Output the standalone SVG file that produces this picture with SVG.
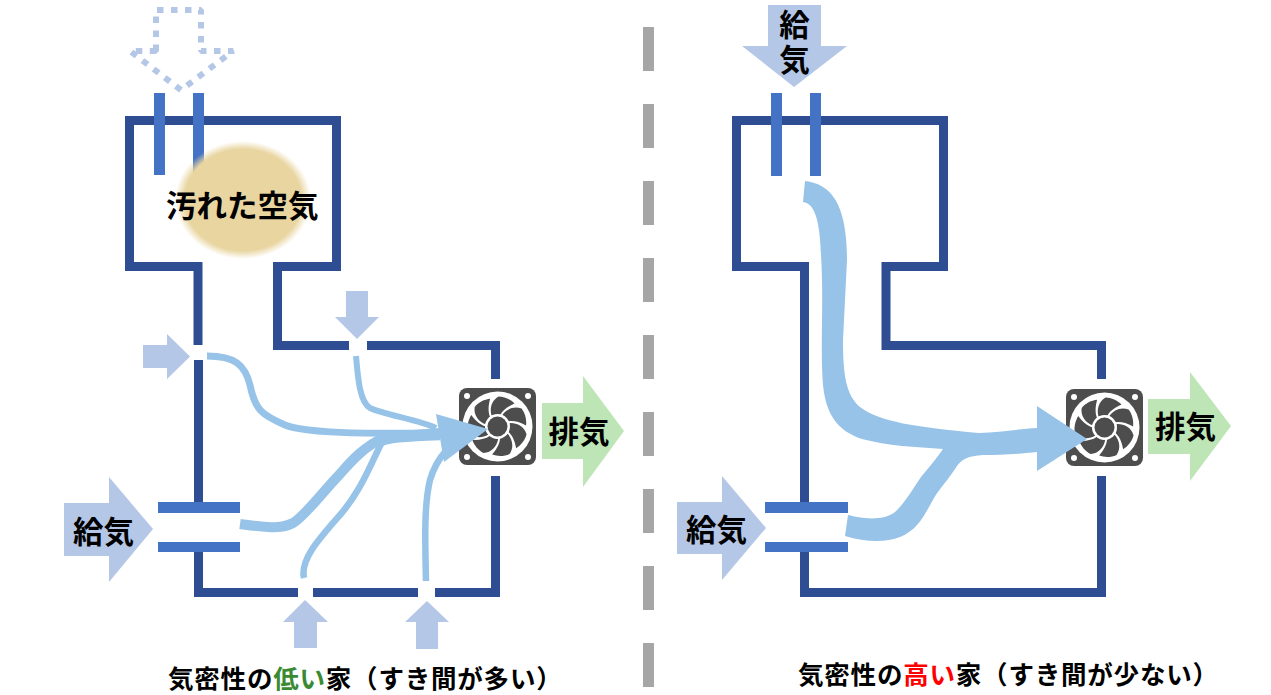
<svg xmlns="http://www.w3.org/2000/svg" width="1271" height="695" viewBox="0 0 1271 695">
<style>
.wall{fill:none;stroke:#2F4D92;stroke-width:9;stroke-linecap:butt;stroke-linejoin:miter}
.vent{fill:#4472C4}
.inflow{fill:#B4C7E7}
.outflow{fill:#BDE5B6}
.flow{fill:none;stroke:#97C3E8;stroke-linecap:butt;stroke-linejoin:round}
.flowfill{fill:#97C3E8}
.t{font-family:"Noto Sans CJK JP","Noto Sans",sans-serif;font-weight:700;fill:#000}
.big{font-size:30.500px}
.cap{font-size:25.500px;letter-spacing:0.800px}
</style>
<defs>
<radialGradient id="blobGrad">
<stop offset="0" stop-color="#E8D5A0"/>
<stop offset="0.86" stop-color="#E8D5A0"/>
<stop offset="1" stop-color="#E8D5A0" stop-opacity="0"/>
</radialGradient>
<g id="blade"><path d="M-6,-11 C-8,-18 -6,-26 1,-30 C7,-30 13,-27 17,-23 C10,-20 5,-16 3,-12 Z" fill="#4D4D4D"/></g>
<g id="fan">
<rect x="0" y="0" width="77" height="77" rx="8" fill="#4D4D4D"/>
<circle cx="8" cy="8" r="3" fill="#fff"/><circle cx="69" cy="8" r="3" fill="#fff"/>
<circle cx="8" cy="69" r="3" fill="#fff"/><circle cx="69" cy="69" r="3" fill="#fff"/>
<circle cx="38.500" cy="38.500" r="35" fill="#fff"/>
<g transform="translate(38.500,38.500)">
<use href="#blade"/>
<use href="#blade" transform="rotate(51.400)"/>
<use href="#blade" transform="rotate(102.900)"/>
<use href="#blade" transform="rotate(154.300)"/>
<use href="#blade" transform="rotate(205.700)"/>
<use href="#blade" transform="rotate(257.100)"/>
<use href="#blade" transform="rotate(308.600)"/>
<circle r="12.500" fill="#fff"/>
<circle r="10" fill="#4D4D4D"/>
</g>
</g>
</defs>
<rect width="1271" height="695" fill="#fff"/>

<g id="divider"><line x1="648.500" y1="27" x2="648.500" y2="687" stroke="#A6A6A6" stroke-width="11" stroke-dasharray="44 33"/></g>

<g id="left-house">
<path class="wall" d="M198,345 V266.500 H129.500 V120.500 H336.500 V266.500 H277.500 V345.500 H349"/>
<path class="wall" d="M367,345.500 H495.500 V379"/>
<path class="wall" d="M198.500,360 V510"/>
<path class="wall" d="M198.500,545 V592.500 H298"/>
<path class="wall" d="M313,592.500 H418"/>
<path class="wall" d="M435,592.500 H495.500 V476"/>
</g>
<g id="left-top-vent"><rect class="vent" x="154" y="93" width="11" height="82"/><rect class="vent" x="193" y="93" width="11" height="82"/></g>
<g id="left-side-vent"><rect class="vent" x="158" y="502" width="82" height="11"/><rect class="vent" x="158" y="542" width="82" height="10"/></g>
<g id="dirty-air">
<ellipse cx="243" cy="200" rx="68" ry="59" fill="url(#blobGrad)"/>
<text class="t big" x="166" y="216.500">汚れた空気</text>
</g>
<g id="left-top-arrow"><polygon points="156,51 156,10 201,10 201,51 233,51 181,90 130,51" fill="none" stroke="#B4C7E7" stroke-width="6" stroke-linejoin="bevel" stroke-dasharray="6.500 7.500"/></g>
<g id="left-leak-1"><polygon class="inflow" points="143,345 167,345 167,334 190,356.500 167,379 167,368 143,368"/></g>
<g id="left-leak-2"><polygon class="inflow" points="346,291 368,291 368,317 379,317 357,339 335,317 346,317"/></g>
<g id="left-leak-3"><polygon class="inflow" points="294,648 317,648 317,622 328,622 305,600 283,622 294,622"/></g>
<g id="left-leak-4"><polygon class="inflow" points="416,649 438,649 438,622 449,622 427,601 405,622 416,622"/></g>
<g id="left-supply"><polygon class="inflow" points="64,503 109,503 109,477 153,529 109,582 109,556 64,556"/><text class="t big" x="73" y="543">給気</text></g>
<g id="left-fan"><use href="#fan" x="459" y="388"/></g>
<g id="left-exhaust"><polygon class="outflow" points="542,403 583,403 583,376 624,431 583,487 583,459 542,459"/><text class="t big" x="548.500" y="443">排気</text></g>
<g id="left-flows">
<path class="flow" stroke-width="7" d="M207,356 C235,356 245,365 250,385 C255,410 262,415 285,425 C305,433 360,434 440,433"/>
<path class="flow" stroke-width="6" d="M356,356 C358,380 360,402 370,408 C385,415 420,420 436,428"/>
<path class="flow" stroke-width="10" d="M240,524 C262,527 280,530 293,523 C305,516 320,495 340,474 C352,460 365,446 385,437 L440,433"/>
<path class="flow" stroke-width="6.500" d="M304,578 C300,560 318,540 340,515 C360,492 368,470 381,444 C385,439 410,438 440,437"/>
<path class="flow" stroke-width="6.500" d="M426,581 C425,540 424,505 430,480 C433,470 438,460 445,452"/>
<polygon class="flowfill" points="436,414 488,429 444,462"/>
</g>

<g id="right-house">
<path class="wall" d="M804.500,271 V266.500 H736.500 V120.500 H943.500 V266.500 H886 V345.500 H1101.500 V379"/>
<path class="wall" d="M804.500,266 V502"/>
<path class="wall" d="M804.500,552 V592.500 H1101.500 V476"/>
</g>
<g id="right-top-vent"><rect class="vent" x="771" y="93" width="11" height="83"/><rect class="vent" x="810" y="93" width="11" height="83"/></g>
<g id="right-side-vent"><rect class="vent" x="765" y="502" width="83" height="11"/><rect class="vent" x="765" y="542" width="83" height="10"/></g>
<g id="right-top-supply"><polygon class="inflow" points="768,5 821,5 821,46 847,46 794,87 742,46 768,46"/>
<text class="t" text-anchor="middle" style="font-size:30.500px"><tspan x="794.500" y="36">給</tspan><tspan x="794.500" y="71">気</tspan></text></g>
<g id="right-supply"><polygon class="inflow" points="677,502 722,502 722,476 766,528 722,580 722,554 677,554"/><text class="t big" x="686" y="541">給気</text></g>
<g id="right-fan"><use href="#fan" x="1066" y="389"/></g>
<g id="right-exhaust"><polygon class="outflow" points="1148,399 1190,399 1190,372 1231,426 1190,481 1190,454 1148,454"/><text class="t big" x="1155" y="438">排気</text></g>
<g id="right-flows">
<path class="flowfill" d="M805,181 C832,184 847,205 847,260 L843,340 C843,375 846,395 860,407 C880,422 915,427 979,433 C1000,432 1020,429 1037,428 L1037,406 L1087,439 L1037,471 L1037,452 C1020,454 1000,455 983,455 C968,456 962,459 957,466 C948,480 940,488 934,498 C925,514 918,530 900,537 C885,543 865,542 845,536 L848,515 C860,518 882,522 895,512 C905,503 912,490 921,477 C929,467 937,458 943,449 C915,447 888,446 862,439 C838,431 826,415 823,385 C820,350 824,300 821,255 C820,222 815,203 803,202 Z"/>
</g>

<g id="caption-left"><text class="t cap" x="168" y="688">気密性の<tspan fill="#3A8A32">低い</tspan>家（すき間が多い）</text></g>
<g id="caption-right"><text class="t cap" x="798" y="684">気密性の<tspan fill="#FF0000">高い</tspan>家（すき間が少ない）</text></g>
</svg>
